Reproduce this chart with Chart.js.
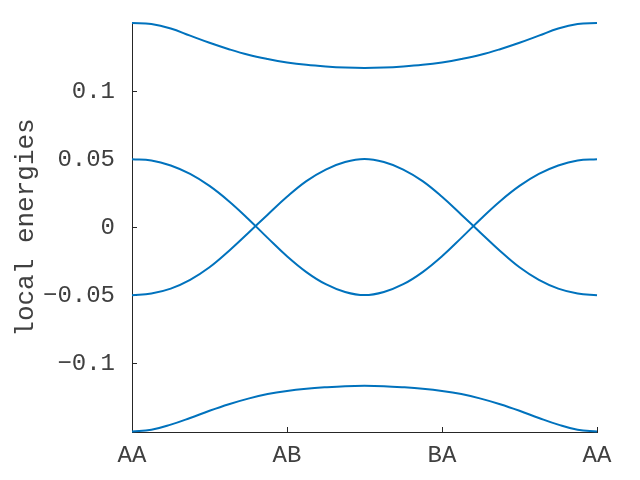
<!DOCTYPE html>
<html>
<head>
<meta charset="utf-8">
<script src="https://cdn.jsdelivr.net/npm/chart.js@4"></script>
<style>
  html, body { margin: 0; padding: 0; background: #fff; }
  #wrap { width: 640px; height: 480px; }
</style>
</head>
<body>
<div id="wrap"><canvas id="myChart"></canvas></div>
<script>
// path position along AA -> AB -> BA -> AA
const xPos = [0, 0.125, 0.25, 0.375, 0.5, 0.625, 0.75, 0.875, 1, 1.125, 1.25, 1.375, 1.5,
              1.625, 1.75, 1.875, 2, 2.125, 2.25, 2.375, 2.5, 2.625, 2.75, 2.875, 3];
const xTickPos = [0, 1, 2, 3];
const xTickLabels = ['AA', 'AB', 'BA', 'AA'];
const yTicks = [-0.1, -0.05, 0, 0.05, 0.1];

const bandTop = [0.1500, 0.1493, 0.1460, 0.1407, 0.1355, 0.1308, 0.1267, 0.1236, 0.1211, 0.1193, 0.1181, 0.1173, 0.1170,
                 0.1173, 0.1181, 0.1193, 0.1211, 0.1236, 0.1267, 0.1308, 0.1355, 0.1407, 0.1460, 0.1493, 0.1500];
const bandMidA = [0.0500, 0.0492, 0.0455, 0.0393, 0.0305, 0.0193, 0.0063, -0.0076, -0.0211, -0.0327, -0.0416, -0.0473, -0.0496,
                  -0.0473, -0.0416, -0.0327, -0.0211, -0.0076, 0.0063, 0.0193, 0.0305, 0.0393, 0.0455, 0.0492, 0.0500];
const bandMidB = [-0.0497, -0.0484, -0.0448, -0.0384, -0.0292, -0.0172, -0.0040, 0.0094, 0.0225, 0.0340, 0.0425, 0.0480, 0.0502,
                  0.0480, 0.0425, 0.0340, 0.0225, 0.0094, -0.0040, -0.0172, -0.0292, -0.0384, -0.0448, -0.0484, -0.0497];
const bandBottom = [-0.1497, -0.1484, -0.1446, -0.1397, -0.1344, -0.1296, -0.1255, -0.1222, -0.1199, -0.1183, -0.1172, -0.1164, -0.1161,
                    -0.1164, -0.1172, -0.1183, -0.1199, -0.1222, -0.1255, -0.1296, -0.1344, -0.1397, -0.1446, -0.1484, -0.1497];

const lineColor = '#0072BD';
const axisColor = '#262626';
const textColor = '#404040';
const font = 'Liberation Mono';

function series(vals) {
  return {
    data: vals.map((v, i) => ({ x: xPos[i], y: v })),
    borderColor: lineColor,
    borderWidth: 2,
    pointRadius: 0,
    fill: false,
    tension: 0.4,
    clip: 3
  };
}

const ctx = document.getElementById('myChart');
new Chart(ctx, {
  type: 'line',
  data: {
    datasets: [series(bandTop), series(bandMidA), series(bandMidB), series(bandBottom)]
  },
  options: {
    responsive: true,
    maintainAspectRatio: false,
    animation: false,
    layout: { padding: { left: 0, top: 23, right: 43, bottom: 0 } },
    plugins: { legend: { display: false }, tooltip: { enabled: false } },
    scales: {
      x: {
        type: 'linear',
        min: 0,
        max: 3,
        afterBuildTicks: (scale) => { scale.ticks = xTickPos.map(v => ({ value: v })); },
        afterFit: (scale) => {
          scale.height = 48;
          scale.paddingLeft = 0;
          scale.paddingRight = 0;
        },
        ticks: {
          callback: (v, i) => xTickLabels[i],
          color: textColor,
          font: { family: font, size: 24 },
          padding: 14,
          maxRotation: 0
        },
        grid: { drawOnChartArea: false, drawTicks: true, tickLength: -5, color: axisColor },
        border: { display: true, color: axisColor, width: 1 }
      },
      y: {
        min: -0.15,
        max: 0.15,
        afterBuildTicks: (scale) => { scale.ticks = yTicks.map(v => ({ value: v })); },
        afterFit: (scale) => {
          scale.width = 132;
          scale.paddingTop = 0;
          scale.paddingBottom = 0;
        },
        ticks: {
          callback: (v) => v === 0 ? '0' : (v < 0 ? '\u2212' : '') + Math.abs(v),
          color: textColor,
          font: { family: font, size: 24 },
          padding: 22
        },
        title: {
          display: true,
          text: 'local energies',
          color: textColor,
          font: { family: font, size: 26 },
          padding: { top: 11, bottom: 0 }
        },
        grid: { drawOnChartArea: false, drawTicks: true, tickLength: -5, color: axisColor },
        border: { display: true, color: axisColor, width: 1 }
      }
    }
  }
});
</script>
</body>
</html>
